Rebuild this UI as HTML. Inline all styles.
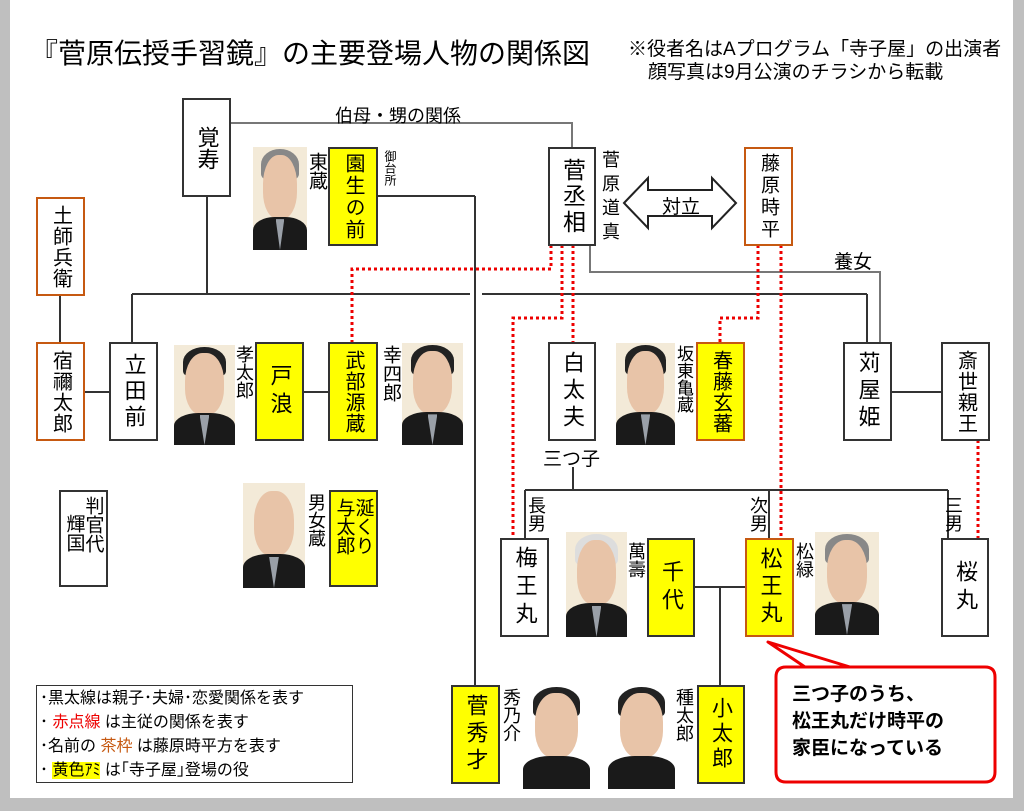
<!DOCTYPE html>
<html><head><meta charset="utf-8"><style>
body{margin:0;width:1024px;height:811px;background:#bfbfbf;position:relative;overflow:hidden;font-family:"Liberation Sans","Noto Sans CJK JP",sans-serif;color:#000}
#pg{position:absolute;left:10px;top:0;width:1003px;height:798px;background:#fff}
.a{position:absolute}
.b{position:absolute;box-sizing:border-box;border:2px solid #333;background:#fff;display:flex;align-items:center;justify-content:center;writing-mode:vertical-rl;text-orientation:upright;font-size:21px;line-height:1;white-space:nowrap}
.b2{flex-direction:column;align-items:flex-start}
.y{background:#ffff00}
.o{border-color:#c65911}
.v{position:absolute;writing-mode:vertical-rl;text-orientation:upright;font-size:18px;line-height:1;white-space:nowrap}
.ph{position:absolute;background:#f3ead8;overflow:hidden}
.ph .f{position:absolute;left:18%;top:8%;width:64%;height:62%;border-radius:45% 45% 42% 42%;background:#e8c4a8}
.ph .h{position:absolute;left:15%;top:2%;width:70%;height:30%;border-radius:50% 50% 20% 20%;background:#222}
.ph .k{position:absolute;left:0;bottom:0;width:100%;height:32%;background:#1a1a1a;border-radius:40% 40% 0 0}
.ph .c{position:absolute;left:42%;bottom:0;width:16%;height:30%;background:#9aa0a8;clip-path:polygon(0 0,100% 0,50% 100%)}
.gh .h{background:#888}
.bh .h{background:transparent}
</style></head><body>
<div id="pg"></div>
<svg class="a" style="left:0;top:0" width="1024" height="811">
<g stroke="#333" stroke-width="2" fill="none">
<polyline points="230,123 572,123 572,147" stroke="#777"/>
<line x1="207" y1="196" x2="207" y2="294"/>
<line x1="132" y1="294" x2="470" y2="294"/>
<line x1="482" y1="294" x2="867" y2="294"/>
<line x1="867" y1="294" x2="867" y2="342"/>
<line x1="132" y1="294" x2="132" y2="342"/>
<line x1="378" y1="196" x2="475" y2="196"/>
<line x1="475" y1="196" x2="475" y2="685"/>
<line x1="60" y1="295" x2="60" y2="342"/>
<line x1="85" y1="392" x2="109" y2="392"/>
<line x1="304" y1="392" x2="328" y2="392"/>
<line x1="892" y1="392" x2="941" y2="392"/>
<polyline points="590,245 590,272 880,272 880,342" stroke="#777"/>
<line x1="573" y1="467" x2="573" y2="490"/>
<line x1="525" y1="490" x2="948" y2="490"/>
<line x1="525" y1="490" x2="525" y2="538"/>
<line x1="769" y1="490" x2="769" y2="538"/>
<line x1="948" y1="490" x2="948" y2="538"/>
<line x1="695" y1="587" x2="745" y2="587"/>
<line x1="720" y1="587" x2="720" y2="685"/>
</g>
<g stroke="#e00" stroke-width="3" stroke-dasharray="3,3" fill="none">
<polyline points="551,245 551,269 352,269 352,342"/>
<polyline points="562,245 562,318 513,318 513,538"/>
<polyline points="573,245 573,342"/>
<polyline points="758,245 758,318 720,318 720,342"/>
<polyline points="781,245 781,538"/>
<polyline points="978,440 978,538"/>
</g>
<polygon points="624,203 648,178 648,190 712,190 712,178 736,203 712,228 712,216 648,216 648,228" fill="#fff" stroke="#222" stroke-width="2"/>
<path d="M790,667 L985,667 Q995,667 995,677 L995,772 Q995,782 985,782 L786,782 Q776,782 776,772 L776,677 Q776,667 786,667 L805,667 L768,642 L850,667 Z" fill="#fff" stroke="#e00" stroke-width="3" stroke-linejoin="round"/>
</svg>
<div class="a" style="left:30px;top:32px;font-size:28px;white-space:nowrap">『菅原伝授手習鏡』の主要登場人物の関係図</div>
<div class="a" style="left:628px;top:34px;font-size:19px;white-space:nowrap">※役者名はAプログラム「寺子屋」の出演者</div>
<div class="a" style="left:648px;top:57px;font-size:19px;white-space:nowrap">顔写真は9月公演のチラシから転載</div>
<div class="a" style="left:335px;top:102px;font-size:18px">伯母・甥の関係</div>
<div class="a" style="left:662px;top:192px;font-size:19px">対立</div>
<div class="a" style="left:834px;top:247px;font-size:19px">養女</div>
<div class="a" style="left:543px;top:444px;font-size:19px">三つ子</div>

<div class="b" style="left:182px;top:98px;width:49px;height:99px;font-size:22px">覚寿</div>
<div class="b o" style="left:36px;top:197px;width:49px;height:99px;font-size:20px;letter-spacing:1px">土師兵衛</div>
<div class="b o" style="left:36px;top:342px;width:49px;height:99px;font-size:20px;letter-spacing:1px">宿禰太郎</div>
<div class="b" style="left:109px;top:342px;width:49px;height:99px;font-size:22px;letter-spacing:4px">立田前</div>
<div class="b y" style="left:328px;top:147px;width:50px;height:99px;font-size:20px;letter-spacing:2px">園生の前</div>
<div class="b y" style="left:255px;top:342px;width:49px;height:99px;font-size:22px;letter-spacing:6px">戸浪</div>
<div class="b y" style="left:328px;top:342px;width:50px;height:99px;font-size:20px;letter-spacing:1px">武部源蔵</div>
<div class="b" style="left:548px;top:147px;width:48px;height:99px;font-size:23px;letter-spacing:3px">菅丞相</div>
<div class="b o" style="left:744px;top:147px;width:49px;height:99px;font-size:19px;letter-spacing:3px">藤原時平</div>
<div class="b" style="left:548px;top:342px;width:48px;height:99px;font-size:22px;letter-spacing:5px">白太夫</div>
<div class="b y o" style="left:696px;top:342px;width:49px;height:99px;font-size:20px;letter-spacing:1px">春藤玄蕃</div>
<div class="b" style="left:843px;top:342px;width:49px;height:99px;font-size:22px;letter-spacing:5px">苅屋姫</div>
<div class="b" style="left:941px;top:342px;width:49px;height:99px;font-size:20px;letter-spacing:1px">斎世親王</div>
<div class="b b2" style="left:59px;top:490px;width:49px;height:97px;font-size:19px;justify-content:center"><span style="margin-top:4px">判官代</span><span style="margin-top:22px">輝国</span></div>
<div class="b y b2" style="left:329px;top:490px;width:49px;height:97px;font-size:19px;justify-content:center"><span style="margin-top:6px">涎くり</span><span style="margin-top:6px">与太郎</span></div>
<div class="b" style="left:500px;top:538px;width:49px;height:99px;font-size:22px;letter-spacing:6px">梅王丸</div>
<div class="b y" style="left:647px;top:538px;width:48px;height:99px;font-size:22px;letter-spacing:6px">千代</div>
<div class="b y o" style="left:745px;top:538px;width:49px;height:99px;font-size:22px;letter-spacing:5px">松王丸</div>
<div class="b" style="left:941px;top:538px;width:48px;height:99px;font-size:22px;letter-spacing:6px">桜丸</div>
<div class="b y" style="left:451px;top:685px;width:49px;height:99px;font-size:22px;letter-spacing:5px">菅秀才</div>
<div class="b y" style="left:697px;top:685px;width:48px;height:99px;font-size:21px;letter-spacing:4px">小太郎</div>

<div class="v" style="left:307px;top:152px;font-size:19px">東蔵</div>
<div class="v" style="left:384px;top:150px;font-size:12px">御台所</div>
<div class="v" style="left:601px;top:150px;font-size:18px;letter-spacing:6px">菅原道真</div>
<div class="v" style="left:235px;top:345px;font-size:18px">孝太郎</div>
<div class="v" style="left:381px;top:345px;font-size:19px">幸四郎</div>
<div class="v" style="left:675px;top:345px;font-size:17px">坂東亀蔵</div>
<div class="v" style="left:307px;top:493px;font-size:18px">男女蔵</div>
<div class="v" style="left:527px;top:496px;font-size:18px">長男</div>
<div class="v" style="left:749px;top:496px;font-size:18px">次男</div>
<div class="v" style="left:944px;top:496px;font-size:18px">三男</div>
<div class="v" style="left:627px;top:542px;font-size:18px">萬壽</div>
<div class="v" style="left:795px;top:542px;font-size:18px">松緑</div>
<div class="v" style="left:502px;top:688px;font-size:18px">秀乃介</div>
<div class="v" style="left:675px;top:688px;font-size:18px">種太郎</div>

<div class="ph gh" style="left:253px;top:147px;width:54px;height:103px"><div class="h"></div><div class="f"></div><div class="k"></div><div class="c"></div></div>
<div class="ph" style="left:174px;top:345px;width:61px;height:100px"><div class="h"></div><div class="f"></div><div class="k"></div><div class="c"></div></div>
<div class="ph" style="left:402px;top:343px;width:61px;height:102px"><div class="h"></div><div class="f"></div><div class="k"></div><div class="c"></div></div>
<div class="ph" style="left:616px;top:343px;width:59px;height:102px"><div class="h"></div><div class="f"></div><div class="k"></div><div class="c"></div></div>
<div class="ph bh" style="left:243px;top:483px;width:62px;height:105px"><div class="h"></div><div class="f"></div><div class="k"></div><div class="c"></div></div>
<div class="ph gh" style="left:566px;top:532px;width:61px;height:105px"><div class="h" style="background:#ddd"></div><div class="f"></div><div class="k"></div><div class="c"></div></div>
<div class="ph gh" style="left:815px;top:532px;width:64px;height:103px"><div class="h"></div><div class="f"></div><div class="k"></div><div class="c"></div></div>
<div class="ph" style="left:523px;top:685px;width:67px;height:104px;background:#fff"><div class="h"></div><div class="f"></div><div class="k"></div></div>
<div class="ph" style="left:608px;top:685px;width:67px;height:104px;background:#fff"><div class="h"></div><div class="f"></div><div class="k"></div></div>

<div class="a" style="left:36px;top:685px;width:317px;height:98px;box-sizing:border-box;border:1px solid #333;background:#fff;font-size:16px;line-height:24px;padding:1px 0 0 3px;white-space:nowrap">
<div>･黒太線は親子･夫婦･恋愛関係を表す</div>
<div>･ <span style="color:#e00">赤点線</span> は主従の関係を表す</div>
<div>･名前の <span style="color:#c65911">茶枠</span> は藤原時平方を表す</div>
<div>･ <span style="background:#ffff00">黄色ｱﾐ</span> は｢寺子屋｣登場の役</div>
</div>
<div class="a" style="left:792px;top:681px;font-size:19px;line-height:27px;font-weight:bold;white-space:nowrap">三つ子のうち、<br>松王丸だけ時平の<br>家臣になっている</div>
</body></html>
